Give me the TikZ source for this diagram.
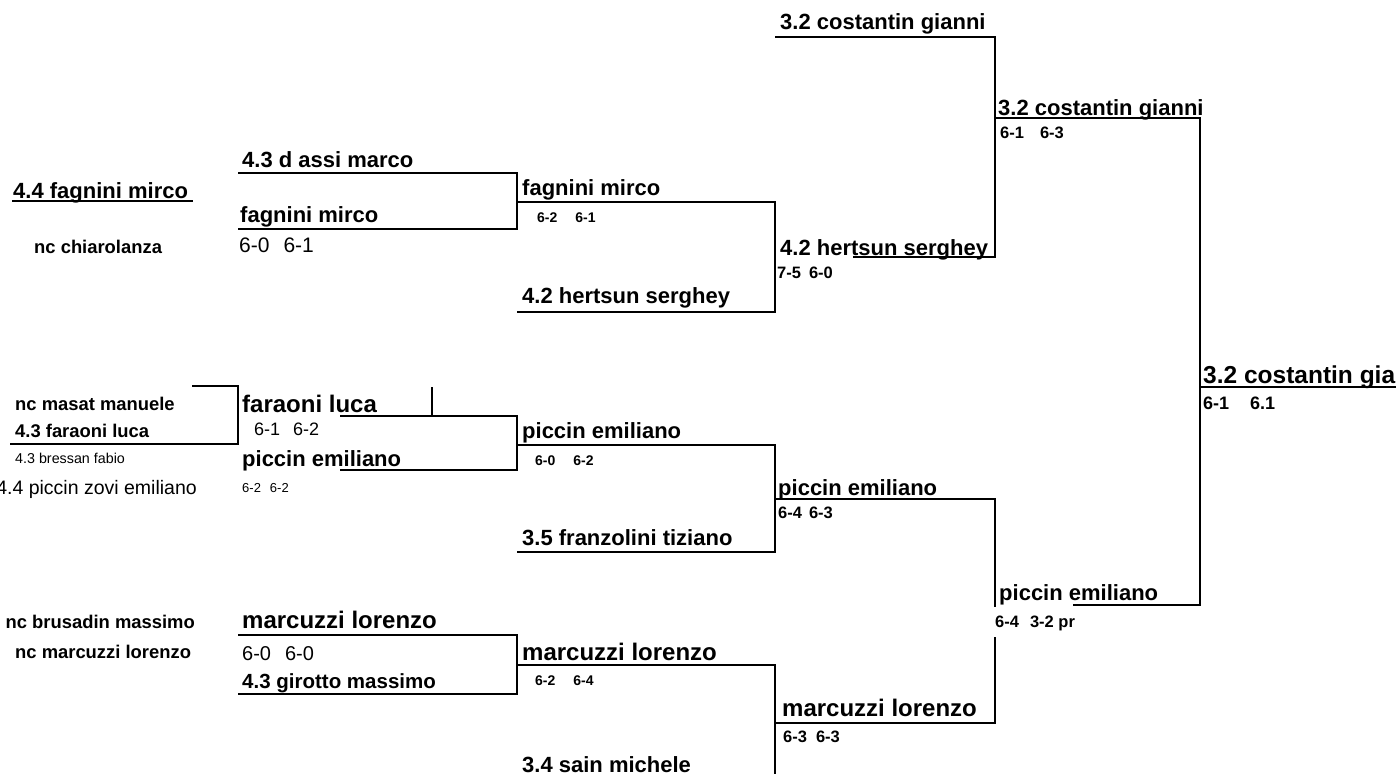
\documentclass[tikz,border=0pt]{standalone}
\usepackage{fontspec}
\setmainfont{Liberation Sans}
\begin{document}
\begin{tikzpicture}[x=1pt, y=-1pt]
    % Styles
    \tikzstyle{player} = [anchor=base west, inner sep=0pt, font=\bfseries\fontsize{22}{26}\selectfont]
    \tikzstyle{bigplayer} = [player, font=\bfseries\fontsize{24}{28}\selectfont]
    \tikzstyle{seed} = [player, font=\bfseries\fontsize{18.4}{22}\selectfont]
    \tikzstyle{score} = [anchor=base west, inner sep=0pt, font=\bfseries\fontsize{14}{16}\selectfont]
    \tikzstyle{bigscore} = [score, font=\bfseries\fontsize{16.5}{19}\selectfont]
    \tikzstyle{plain} = [anchor=base west, inner sep=0pt]
    \tikzstyle{wire} = [line width=2.2pt]

    \useasboundingbox (0,0) rectangle (1396,774);

    % Nodes: first column
    \node [player] (a1) at (13,198) {4.4 fagnini mirco};
    \node [seed] (a2) at (34,253) {nc chiarolanza};
    \node [seed] (a3) at (15,410) {nc masat manuele};
    \node [seed] (a4) at (15,437) {4.3 faraoni luca};
    \node [plain, font=\fontsize{14.3}{17}\selectfont] (a5) at (15,463) {4.3 bressan fabio};
    \node [plain, anchor=base east, font=\fontsize{19.5}{23}\selectfont] (a6) at (197,494) {4.4 piccin zovi emiliano};
    \node [seed, anchor=base east] (a7) at (195,628) {nc brusadin massimo};
    \node [seed] (a8) at (15,658) {nc marcuzzi lorenzo};

    % Nodes: second column
    \node [player] (b1) at (242,167) {4.3 d assi marco};
    \node [player] (b2) at (240,222) {fagnini mirco};
    \node [plain, font=\fontsize{21}{24}\selectfont] (b2s) at (239,252) {6-0\hspace{14pt}6-1};
    \node [bigplayer] (b3) at (242,412) {faraoni luca};
    \node [plain, font=\fontsize{18}{21}\selectfont] (b3s) at (254,435) {6-1\hspace{13pt}6-2};
    \node [player] (b4) at (242,466) {piccin emiliano};
    \node [plain, font=\fontsize{13}{15}\selectfont] (b4s) at (242,492) {6-2\hspace{9pt}6-2};
    \node [bigplayer] (b5) at (242,628) {marcuzzi lorenzo};
    \node [plain, font=\fontsize{20}{23}\selectfont] (b5s) at (242,660) {6-0\hspace{14pt}6-0};
    \node [player, font=\bfseries\fontsize{20.5}{24}\selectfont] (b6) at (242,688) {4.3 girotto massimo};

    % Nodes: third column
    \node [player] (c1) at (522,195) {fagnini mirco};
    \node [score] (c1s) at (537,222) {6-2\hspace{18pt}6-1};
    \node [player] (c2) at (522,303) {4.2 hertsun serghey};
    \node [player] (c3) at (522,438) {piccin emiliano};
    \node [score] (c3s) at (535,465) {6-0\hspace{18pt}6-2};
    \node [player] (c4) at (522,545) {3.5 franzolini tiziano};
    \node [bigplayer] (c5) at (522,660) {marcuzzi lorenzo};
    \node [score] (c5s) at (535,685) {6-2\hspace{18pt}6-4};
    \node [player] (c6) at (522,772) {3.4 sain michele};

    % Nodes: fourth column
    \node [player] (d1) at (780,29) {3.2 costantin gianni};
    \node [player] (d2) at (780,255) {4.2 hertsun serghey};
    \node [bigscore] (d2s) at (777,278) {7-5\hspace{8pt}6-0};
    \node [player] (d3) at (778,495) {piccin emiliano};
    \node [bigscore] (d3s) at (778,518) {6-4\hspace{7pt}6-3};
    \node [bigplayer] (d4) at (782,716) {marcuzzi lorenzo};
    \node [bigscore] (d4s) at (783,742) {6-3\hspace{9pt}6-3};

    % Nodes: fifth column and winner
    \node [player] (e1) at (998,115) {3.2 costantin gianni};
    \node [bigscore] (e1s) at (1000,138) {6-1\hspace{16pt}6-3};
    \node [player] (e2) at (999,600) {piccin emiliano};
    \node [bigscore] (e2s) at (995,627) {6-4\hspace{11pt}3-2 pr};
    \node [player, font=\bfseries\fontsize{24.5}{28}\selectfont] (f1) at (1203,383) {3.2 costantin gianni};
    \node [score, font=\bfseries\fontsize{18}{21}\selectfont] (f1s) at (1203,409) {6-1\hspace{21pt}6.1};

    % Line ends
    \coordinate (a1l) at (12,201);   \coordinate (a1r) at (193,201);
    \coordinate (a3l) at (192,386);  \coordinate (a4r) at (238,444);  \coordinate (a4l) at (10,444);
    \coordinate (b1l) at (238,173);  \coordinate (b2r) at (517,229);  \coordinate (b2l) at (238,229);
    \coordinate (b3t) at (432,387);  \coordinate (b3b) at (432,416);
    \coordinate (b3l) at (340,416);  \coordinate (b4r) at (517,470);  \coordinate (b4l) at (340,470);
    \coordinate (b5l) at (238,635);  \coordinate (b6r) at (517,694);  \coordinate (b6l) at (238,694);
    \coordinate (c1l) at (517,202);  \coordinate (c2r) at (775,312);  \coordinate (c2l) at (517,312);
    \coordinate (c3l) at (517,445);  \coordinate (c4r) at (775,552);  \coordinate (c4l) at (517,552);
    \coordinate (c5l) at (517,665);  \coordinate (c6r) at (775,774);
    \coordinate (d1l) at (775,37);   \coordinate (d2r) at (995,257);  \coordinate (d2l) at (853,257);
    \coordinate (d3l) at (775,499);  \coordinate (d3r) at (995,607);
    \coordinate (d4t) at (995,637);  \coordinate (d4l) at (775,723);
    \coordinate (e1l) at (995,118);  \coordinate (e2r) at (1200,605); \coordinate (e2l) at (1073,605);
    \coordinate (f1l) at (1200,387); \coordinate (f1r) at (1396,387);

    % Connections
    \draw [wire] (a1l) -- (a1r);
    \draw [wire] (a3l) -| (a4r) -- (a4l);
    \draw [wire] (b1l) -| (b2r) -- (b2l);
    \draw [wire] (b3t) -- (b3b);
    \draw [wire] (b3l) -| (b4r) -- (b4l);
    \draw [wire] (b5l) -| (b6r) -- (b6l);
    \draw [wire] (c1l) -| (c2r) -- (c2l);
    \draw [wire] (c3l) -| (c4r) -- (c4l);
    \draw [wire] (c5l) -| (c6r);
    \draw [wire] (d1l) -| (d2r) -- (d2l);
    \draw [wire] (d3l) -| (d3r);
    \draw [wire] (d4t) |- (d4l);
    \draw [wire] (e1l) -| (e2r) -- (e2l);
    \draw [wire] (f1l) -- (f1r);
\end{tikzpicture}
\end{document}
